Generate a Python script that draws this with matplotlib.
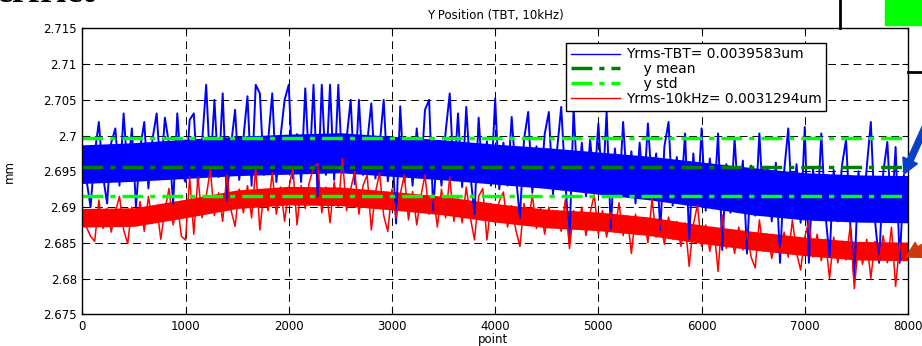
import numpy as np
import matplotlib
matplotlib.use("Agg")
import matplotlib.pyplot as plt
from matplotlib.lines import Line2D
from matplotlib.patches import Rectangle, FancyArrow

plt.rcParams['font.family'] = ['DejaVu Sans']

# ---- data ----
# inner band where the samples are densest, read every 500 points
seg_pts = [0, 500, 1000, 1500, 2000, 2500, 3000, 3500, 4000,
           4500, 5000, 5500, 6000, 6500, 7000, 7500, 8000]
tbt_hi = [2.6987, 2.6990, 2.6995, 2.6999, 2.7002, 2.7004, 2.6999, 2.6994, 2.6988,
          2.6983, 2.6977, 2.6971, 2.6963, 2.6955, 2.6948, 2.6945, 2.6944]
tbt_lo = [2.6933, 2.6936, 2.6940, 2.6944, 2.6946, 2.6948, 2.6943, 2.6938, 2.6932,
          2.6926, 2.6918, 2.6910, 2.6900, 2.6889, 2.6882, 2.6879, 2.6878]
khz_hi = [2.6898, 2.6899, 2.6911, 2.6924, 2.6929, 2.6928, 2.6922, 2.6915, 2.6905,
          2.6897, 2.6893, 2.6886, 2.6875, 2.6866, 2.6858, 2.6852, 2.6851]
khz_lo = [2.6872, 2.6873, 2.6885, 2.6898, 2.6903, 2.6902, 2.6896, 2.6889, 2.6879,
          2.6871, 2.6867, 2.6860, 2.6849, 2.6840, 2.6832, 2.6826, 2.6825]

# coarse trace, one reading every 40 points (0 .. 8000)
tbt_y = [
    2.6985, 2.6938, 2.6900, 2.6975, 2.7019, 2.6944, 2.6905, 2.6990, 2.7010, 2.6930,
    2.7031, 2.6948, 2.7010, 2.6900, 2.6982, 2.7019, 2.6926, 2.6995, 2.7031, 2.6945,
    2.7025, 2.6988, 2.6905, 2.7031, 2.6950,
    2.6935, 2.7022, 2.7031, 2.6932, 2.6990, 2.7071, 2.6950, 2.7050, 2.6942, 2.7059,
    2.6910, 2.6985, 2.7036, 2.6938, 2.6995, 2.7055, 2.6930, 2.7071, 2.7059, 2.6945,
    2.6992, 2.7059, 2.6935, 2.6998, 2.7050,
    2.7071, 2.6940, 2.7002, 2.6935, 2.7066, 2.6950, 2.7071, 2.6915, 2.7071, 2.6945,
    2.7071, 2.6938, 2.7071, 2.6948, 2.6995, 2.7050, 2.6932, 2.7050, 2.6945, 2.6990,
    2.7045, 2.6940, 2.6985, 2.7050, 2.6936,
    2.6990, 2.6877, 2.7041, 2.6935, 2.6995, 2.6930, 2.7010, 2.6942, 2.7036, 2.7050,
    2.6895, 2.6988, 2.6930, 2.7005, 2.7059, 2.6938, 2.7031, 2.6928, 2.7040, 2.6945,
    2.6890, 2.7025, 2.6935, 2.6992, 2.6930,
    2.7052, 2.6925, 2.6990, 2.6930, 2.7026, 2.6945, 2.6885, 2.6995, 2.7033, 2.6920,
    2.6985, 2.6928, 2.7002, 2.7033, 2.6918, 2.6980, 2.7040, 2.6935, 2.6850, 2.7038,
    2.6925, 2.6990, 2.6915, 2.6995, 2.6930,
    2.7017, 2.6920, 2.7033, 2.6870, 2.6982, 2.6915, 2.7019, 2.6925, 2.6978, 2.6905,
    2.6990, 2.6918, 2.7017, 2.6930, 2.6975, 2.6868, 2.6985, 2.7019, 2.6902, 2.6970,
    2.6912, 2.7003, 2.6855, 2.6975, 2.6900,
    2.7010, 2.6895, 2.6968, 2.6905, 2.7003, 2.6840, 2.6960, 2.6892, 2.6996, 2.6900,
    2.6965, 2.6835, 2.6958, 2.6888, 2.7003, 2.6895, 2.6955, 2.6880, 2.6962, 2.6822,
    2.6950, 2.7010, 2.6885, 2.6960, 2.6878,
    2.7012, 2.6822, 2.6955, 2.6885, 2.7003, 2.6890, 2.6830, 2.6952, 2.6880, 2.6958,
    2.6994, 2.6878, 2.6801, 2.6950, 2.6885, 2.6955, 2.7019, 2.6882, 2.6822, 2.6948,
    2.6991, 2.6880, 2.6984, 2.6822, 2.6945,
    2.6890]
khz_y = [
    2.6895, 2.6872, 2.6859, 2.6852, 2.6910, 2.6870, 2.6898, 2.6865, 2.6893, 2.6915,
    2.6868, 2.6849, 2.6900, 2.6874, 2.6908, 2.6866, 2.6915, 2.6878, 2.6902, 2.6855,
    2.6896, 2.6926, 2.6875, 2.6905, 2.6859,
    2.6854, 2.6942, 2.6862, 2.6942, 2.6885, 2.6915, 2.6952, 2.6888, 2.6920, 2.6880,
    2.6945, 2.6896, 2.6873, 2.6925, 2.6892, 2.6930, 2.6885, 2.6955, 2.6868, 2.6922,
    2.6895, 2.6948, 2.6890, 2.6928, 2.6880,
    2.6925, 2.6956, 2.6875, 2.6930, 2.6898, 2.6935, 2.6955, 2.6961, 2.6892, 2.6928,
    2.6878, 2.6935, 2.6900, 2.6968, 2.6895, 2.6925, 2.6950, 2.6890, 2.6930, 2.6945,
    2.6868, 2.6920, 2.6948, 2.6888, 2.6866,
    2.6925, 2.6885, 2.6918, 2.6945, 2.6882, 2.6922, 2.6875, 2.6915, 2.6945, 2.6890,
    2.6918, 2.6872, 2.6925, 2.6885, 2.6942, 2.6880, 2.6912, 2.6878, 2.6928, 2.6885,
    2.6854, 2.6915, 2.6926, 2.6854, 2.6905,
    2.6878, 2.6908, 2.6921, 2.6872, 2.6902, 2.6868, 2.6845, 2.6905, 2.6875, 2.6917,
    2.6870, 2.6898, 2.6862, 2.6900, 2.6875, 2.6895, 2.6866, 2.6910, 2.6842, 2.6895,
    2.6870, 2.6900, 2.6860, 2.6892, 2.6917,
    2.6862, 2.6895, 2.6858, 2.6892, 2.6865, 2.6906, 2.6860, 2.6888, 2.6835, 2.6890,
    2.6862, 2.6885, 2.6850, 2.6912, 2.6858, 2.6882, 2.6848, 2.6886, 2.6855, 2.6880,
    2.6845, 2.6878, 2.6817, 2.6875, 2.6903,
    2.6845, 2.6875, 2.6838, 2.6870, 2.6810, 2.6889, 2.6842, 2.6868, 2.6835, 2.6872,
    2.6840, 2.6866, 2.6830, 2.6815, 2.6882, 2.6838, 2.6862, 2.6828, 2.6860, 2.6835,
    2.6865, 2.6830, 2.6882, 2.6836, 2.6812,
    2.6858, 2.6880, 2.6830, 2.6862, 2.6825, 2.6855, 2.6800, 2.6858, 2.6822, 2.6852,
    2.6826, 2.6873, 2.6786, 2.6850, 2.6820, 2.6855, 2.6800, 2.6852, 2.6825, 2.6860,
    2.6822, 2.6872, 2.6789, 2.6850, 2.6825,
    2.6845]
trace_pts = np.arange(0, 8001, 40)

y_mean = 2.6956
y_std = 0.0040

x_ticks = [0, 1000, 2000, 3000, 4000, 5000, 6000, 7000, 8000]
y_ticks = [2.675, 2.68, 2.685, 2.69, 2.695, 2.7, 2.705, 2.71, 2.715]
y_tick_labels = ['2.675', '2.68', '2.685', '2.69', '2.695', '2.7', '2.705', '2.71', '2.715']

labels = ['Yrms-TBT= 0.0039583um', '    y mean', '    y std', 'Yrms-10kHz= 0.0031294um']

fig = plt.figure(figsize=(9.22, 3.46), dpi=100)
ax = fig.add_axes([0.0893, 0.0916, 0.8955, 0.8266])

blue = (0, 0, 1)
red = (1, 0, 0)

ax.fill_between(seg_pts, tbt_lo, tbt_hi, color=blue, lw=0)
ax.plot(trace_pts, tbt_y, color=blue, lw=1.4)
ax.fill_between(seg_pts, khz_lo, khz_hi, color=red, lw=0)
ax.plot(trace_pts, khz_y, color=red, lw=1.1)

dashdot = (0, (6, 2, 1.5, 2))
ax.axhline(y_mean, color=(0, 0.5, 0), lw=2.5, ls=dashdot)
ax.axhline(y_mean + y_std, color=(0, 1, 0), lw=2.5, ls=dashdot)
ax.axhline(y_mean - y_std, color=(0, 1, 0), lw=2.5, ls=dashdot)

ax.set_xlim(0, 8000)
ax.set_ylim(2.675, 2.715)
ax.set_xticks(x_ticks)
ax.set_yticks(y_ticks)
ax.set_yticklabels(y_tick_labels)
ax.tick_params(direction='in', length=4, top=True, right=True, labelsize=8.5, pad=4)
ax.grid(True, color='k', ls=(0, (8, 5)), lw=0.7)
ax.set_axisbelow(True)
for s in ax.spines.values():
    s.set_linewidth(1.0)

ax.set_title('Y Position (TBT, 10kHz)', fontsize=8.5, pad=7)
ax.set_xlabel('point', fontsize=8.5)
ax.set_ylabel('mm', fontsize=8.5)
ax.xaxis.set_label_coords(0.497, -0.064)
ax.yaxis.set_label_coords(-0.08, 0.5)

handles = [Line2D([], [], color=blue, lw=1),
           Line2D([], [], color=(0, 0.5, 0), lw=2.5, ls=dashdot),
           Line2D([], [], color=(0, 1, 0), lw=2.5, ls=dashdot),
           Line2D([], [], color=red, lw=1)]
leg = ax.legend(handles, labels, loc='upper left', bbox_to_anchor=(0.586, 0.95),
                borderaxespad=0, fontsize=10, handlelength=3.5, handletextpad=0.43,
                labelspacing=0.06, borderpad=0.35, fancybox=False, framealpha=1,
                edgecolor='k')
leg.get_frame().set_linewidth(1.0)

# pieces of the slide around the chart
fig.text(-0.004, 1 - 1.5 / 346, 'erfrict', fontsize=26, fontweight='bold',
         family='Liberation Serif', va='baseline')
fig.add_artist(Line2D([840 / 922] * 2, [1, 1 - 28 / 346], color='k', lw=2))
fig.add_artist(Line2D([908 / 922, 1], [1 - 72 / 346] * 2, color='k', lw=2))
fig.add_artist(Rectangle((885 / 922, 1 - 25 / 346), 37 / 922, 25 / 346,
                         color=(0, 1, 0), transform=fig.transFigure))
fig.add_artist(FancyArrow(9.32, 3.46 - 1.12, -0.28, -0.62, width=0.06, head_width=0.16,
                          head_length=0.15, length_includes_head=True,
                          color='#0a3fc8', transform=fig.dpi_scale_trans))
fig.add_artist(FancyArrow(9.45, 3.46 - 2.36, -0.39, -0.21, width=0.07, head_width=0.17,
                          head_length=0.15, length_includes_head=True,
                          color='#cc3a10', transform=fig.dpi_scale_trans))

fig.savefig('out.png', dpi=100)
